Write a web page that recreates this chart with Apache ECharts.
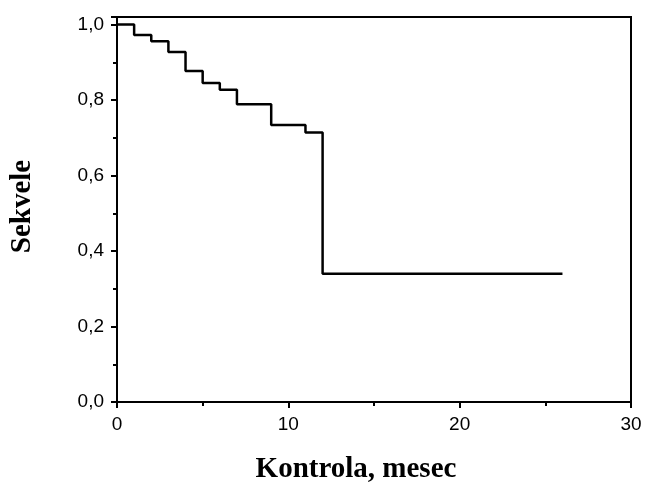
<!DOCTYPE html>
<html><head><meta charset="utf-8">
<script src="https://cdn.jsdelivr.net/npm/echarts@6/dist/echarts.min.js"></script>
<style>html,body{margin:0;padding:0;background:#fff}#c{width:646px;height:484px}</style>
</head><body><div id="c"></div>
<script>
const months = [0, 1, 2, 3, 4, 5, 6, 7, 9, 11, 12, 26];
const survival = [1.0, 0.972, 0.956, 0.927, 0.877, 0.845, 0.827, 0.789, 0.734, 0.714, 0.340, 0.340];
const xTicks = [0, 10, 20, 30];
const yTicks = [0, 0.2, 0.4, 0.6, 0.8, 1.0];

const chart = echarts.init(document.getElementById('c'), null, {renderer: 'canvas'});
const fmtY = v => {
  const ok = yTicks.some(t => Math.abs(t - v) < 1e-6);
  return ok ? v.toFixed(1).replace('.', ',') : '';
};
chart.setOption({
  animation: false,
  grid: {left: 117, right: 15, top: 17, bottom: 82, show: true, borderColor: '#000', borderWidth: 2, backgroundColor: 'transparent', containLabel: false, outerBoundsMode: 'none'},
  xAxis: {
    type: 'value', min: xTicks[0], max: xTicks[xTicks.length - 1], interval: 10,
    name: 'Kontrola, mesec', nameLocation: 'middle', nameGap: 53,
    nameTextStyle: {fontFamily: 'Liberation Serif', fontWeight: 'bold', fontSize: 29, color: '#000', padding: [0, 36, 0, 0]},
    axisLine: {show: true, lineStyle: {color: '#000', width: 2}},
    axisTick: {show: true, inside: false, length: 6, lineStyle: {color: '#000', width: 2}},
    minorTick: {show: true, splitNumber: 2, length: 4, lineStyle: {color: '#000', width: 2}},
    splitLine: {show: false},
    axisLabel: {fontFamily: 'Liberation Sans', fontSize: 19, color: '#000', margin: 13}
  },
  yAxis: {
    type: 'value', min: 0, max: 1.02, interval: 0.2,
    name: 'Sekvele', nameLocation: 'middle', nameGap: 80,
    nameTextStyle: {fontFamily: 'Liberation Serif', fontWeight: 'bold', fontSize: 29, color: '#000', padding: [0, 0, 0, 6]},
    axisLine: {show: true, lineStyle: {color: '#000', width: 2}},
    axisTick: {show: true, inside: false, length: 6, lineStyle: {color: '#000', width: 2}},
    minorTick: {show: true, splitNumber: 2, length: 4, lineStyle: {color: '#000', width: 2}},
    splitLine: {show: false},
    axisLabel: {fontFamily: 'Liberation Sans', fontSize: 19, color: '#000', margin: 13, formatter: fmtY}
  },
  series: [{
    type: 'line', step: 'end', symbol: 'none',
    data: months.map((m, i) => [m, survival[i]]),
    lineStyle: {color: '#000', width: 2.5}
  }]
});
</script></body></html>
